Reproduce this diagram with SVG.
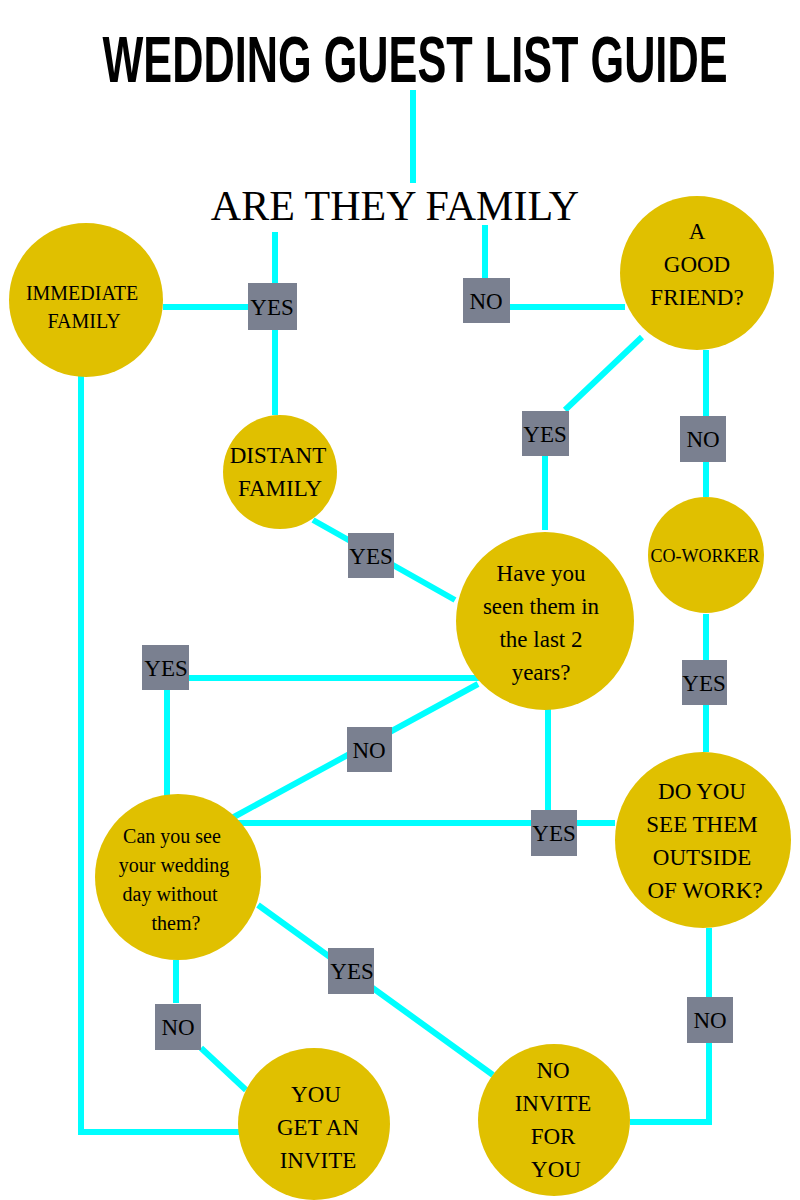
<svg xmlns="http://www.w3.org/2000/svg" width="800" height="1200" viewBox="0 0 800 1200">
<style>
.c{fill:#E0C000}
.l{stroke:#00FFFF;stroke-width:6;fill:none}
.b{fill:#7A8090}
text.t{font-family:'Liberation Serif','DejaVu Serif',serif;font-size:23px;fill:#000;text-anchor:middle}
text.s{font-size:20px}
</style>
<rect width="800" height="1200" fill="#fff"/>
<g id="connectors">
<path class="l" d="M413,90V183M275,232V415M163,307H248M485,225V278M510,307H625M642,337L565,410M545,456V530M706,350V497M706,614V752M313,520L455,600M189,678H480M167,690V800M478,684L232,818M232,823H615M548,708V810M258,905L493,1075M176,960V1003M201,1048L246,1090M81,350V1132H240M709,928V1122H630"/>
</g>
<g id="title"><text x="415" y="82" font-family="Liberation Sans,Arial,sans-serif" font-weight="bold" font-size="64" textLength="625" lengthAdjust="spacingAndGlyphs" text-anchor="middle">WEDDING GUEST LIST GUIDE</text></g>
<g id="are-they-family"><text class="t" x="395" y="220" style="font-size:42px">ARE THEY FAMILY</text></g>
<g id="immediate"><circle class="c" cx="86" cy="300" r="77"/><text class="t s" x="82" y="300">IMMEDIATE</text><text class="t s" x="84" y="328">FAMILY</text></g>
<g id="good-friend"><circle class="c" cx="697" cy="273" r="77"/><text class="t" x="697" y="239">A</text><text class="t" x="697" y="272">GOOD</text><text class="t" x="697" y="305">FRIEND?</text></g>
<g id="distant"><circle class="c" cx="280" cy="472" r="57"/><text class="t" x="278" y="463">DISTANT</text><text class="t" x="280" y="496">FAMILY</text></g>
<g id="seen"><circle class="c" cx="545" cy="621" r="89"/><text class="t" x="541" y="581">Have you</text><text class="t" x="541" y="614">seen them in</text><text class="t" x="541" y="647">the last 2</text><text class="t" x="541" y="680">years?</text></g>
<g id="coworker"><circle class="c" cx="706" cy="555" r="58"/><text class="t" x="705" y="562" style="font-size:18px">CO-WORKER</text></g>
<g id="outside"><circle class="c" cx="703" cy="840" r="88"/><text class="t" x="702" y="799">DO YOU</text><text class="t" x="702" y="832">SEE THEM</text><text class="t" x="702" y="865">OUTSIDE</text><text class="t" x="705" y="898">OF WORK?</text></g>
<g id="wedding-day"><circle class="c" cx="178" cy="877" r="83"/><text class="t s" x="172" y="843">Can you see</text><text class="t s" x="174" y="872">your wedding</text><text class="t s" x="170" y="901">day without</text><text class="t s" x="176" y="930">them?</text></g>
<g id="invite"><circle class="c" cx="314" cy="1124" r="76"/><text class="t" x="316" y="1102">YOU</text><text class="t" x="318" y="1135">GET AN</text><text class="t" x="318" y="1168">INVITE</text></g>
<g id="no-invite"><circle class="c" cx="554" cy="1120" r="76"/><text class="t" x="553" y="1078">NO</text><text class="t" x="553" y="1111">INVITE</text><text class="t" x="553" y="1144">FOR</text><text class="t" x="556" y="1177">YOU</text></g>
<g id="labels">
<rect class="b" x="248" y="283" width="49" height="47"/><text class="t" x="272" y="315">YES</text>
<rect class="b" x="463" y="278" width="47" height="45"/><text class="t" x="486" y="309">NO</text>
<rect class="b" x="522" y="411" width="47" height="45"/><text class="t" x="545" y="442">YES</text>
<rect class="b" x="680" y="416" width="46" height="46"/><text class="t" x="703" y="447">NO</text>
<rect class="b" x="682" y="660" width="45" height="45"/><text class="t" x="704" y="691">YES</text>
<rect class="b" x="348" y="533" width="46" height="45"/><text class="t" x="371" y="564">YES</text>
<rect class="b" x="142" y="645" width="47" height="45"/><text class="t" x="166" y="676">YES</text>
<rect class="b" x="347" y="727" width="45" height="45"/><text class="t" x="369" y="758">NO</text>
<rect class="b" x="531" y="810" width="46" height="46"/><text class="t" x="554" y="841">YES</text>
<rect class="b" x="328" y="948" width="46" height="46"/><text class="t" x="352" y="979">YES</text>
<rect class="b" x="155" y="1004" width="46" height="46"/><text class="t" x="178" y="1035">NO</text>
<rect class="b" x="687" y="997" width="46" height="46"/><text class="t" x="710" y="1028">NO</text>
</g>
</svg>
